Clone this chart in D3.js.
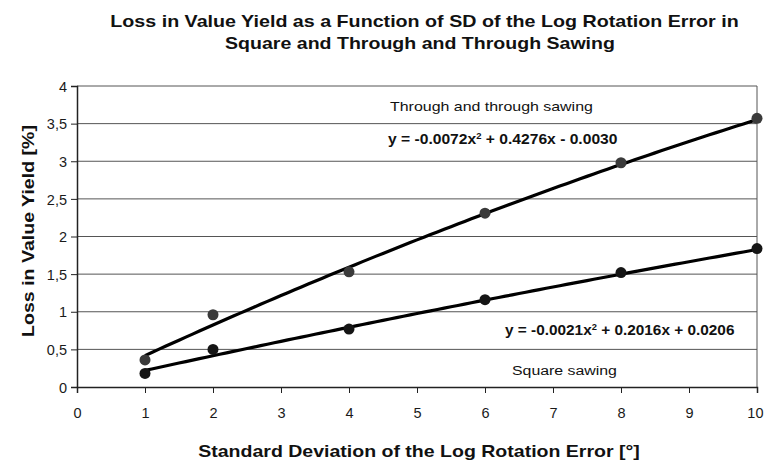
<!DOCTYPE html>
<html>
<head>
<meta charset="utf-8">
<script src="https://cdn.jsdelivr.net/npm/d3@7"></script>
<style>
  body { margin: 0; background: #fff; }
  svg { display: block; font-family: "Liberation Sans", Arial, sans-serif; }
</style>
</head>
<body>
<div id="chart"></div>
<script>
// data
const sdValues = [1, 2, 4, 6, 8, 10];
const throughLoss = [0.36, 0.96, 1.53, 2.31, 2.98, 3.57];
const squareLoss = [0.18, 0.50, 0.77, 1.16, 1.52, 1.84];
// trendline coefficients printed on the chart (a, b, c for ax^2 + bx + c)
const throughFit = [-0.0072, 0.4276, -0.0030];
const squareFit = [-0.0021, 0.2016, 0.0206];
const xTicks = [0, 1, 2, 3, 4, 5, 6, 7, 8, 9, 10];
const yTicks = [0, 0.5, 1, 1.5, 2, 2.5, 3, 3.5, 4];

const width = 764, height = 462;
const margin = { top: 86, right: 7, bottom: 75, left: 77 };

const svg = d3.select('#chart').append('svg')
    .attr('width', width)
    .attr('height', height);

const x = d3.scaleLinear().domain([0, 10]).range([margin.left, width - margin.right]);
const y = d3.scaleLinear().domain([0, 4]).range([height - margin.bottom, margin.top]);

// stretch a text horizontally so it spans w pixels (the source art is wide)
function fit(sel, px, py, w, anchor) {
    sel.attr('text-anchor', anchor || 'start');
    const bw = sel.node().getBBox().width;
    sel.attr('transform', `translate(${px},${py}) scale(${w / bw},1)`);
    return sel;
}

// gridlines
svg.append('g')
    .selectAll('line')
    .data(yTicks.slice(1))
    .enter().append('line')
    .attr('x1', x(0)).attr('x2', x(10))
    .attr('y1', d => y(d)).attr('y2', d => y(d))
    .attr('stroke', '#555')
    .attr('stroke-width', 1);

// right frame
svg.append('line')
    .attr('x1', x(10)).attr('x2', x(10))
    .attr('y1', y(0)).attr('y2', y(4))
    .attr('stroke', '#555');

const fmt = d => String(d).replace('.', ',');

const yAxis = svg.append('g')
    .attr('transform', `translate(${x(0)},0)`)
    .call(d3.axisLeft(y).tickValues(yTicks).tickFormat(fmt).tickSize(6).tickPadding(4));
const xAxis = svg.append('g')
    .attr('transform', `translate(0,${y(0)})`)
    .call(d3.axisBottom(x).tickValues(xTicks).tickSize(6).tickPadding(13));

[yAxis, xAxis].forEach(a => {
    a.select('.domain').attr('stroke', '#222').attr('stroke-width', 1.5);
    a.selectAll('.tick line').attr('stroke', '#222');
    a.selectAll('text').attr('font-size', 14.5).attr('fill', '#1a1a1a')
        .attr('font-family', '"Liberation Sans Narrow", "Arial Narrow", "Liberation Sans", sans-serif');
});
yAxis.selectAll('text').attr('dy', '0.36em');
xAxis.selectAll('text').attr('dy', '0.8em');
// last label sits against the right edge, as in the reference
xAxis.selectAll('.tick text').filter(d => d === 10)
    .attr('text-anchor', 'end').attr('dx', 6);

// trendlines
function curve(coef) {
    const pts = d3.range(0, 91).map(i => 1 + i * 0.1);
    return pts.map(v => [v, coef[0] * v * v + coef[1] * v + coef[2]]);
}
const line = d3.line().x(d => x(d[0])).y(d => y(d[1]));

[throughFit, squareFit].forEach(coef => {
    svg.append('path')
        .datum(curve(coef))
        .attr('d', line)
        .attr('fill', 'none')
        .attr('stroke', '#000')
        .attr('stroke-width', 3.2);
});

// points
function points(vals, color) {
    svg.append('g')
        .selectAll('circle')
        .data(vals)
        .enter().append('circle')
        .attr('cx', (d, i) => x(sdValues[i]))
        .attr('cy', d => y(d))
        .attr('r', 5.5)
        .attr('fill', color);
}
points(throughLoss, '#3a3a3a');
points(squareLoss, '#151515');

// annotations
fit(svg.append('text')
    .attr('font-size', 13.5).attr('fill', '#111')
    .text('Through and through sawing'), 390, 111, 203);

function equation(coefText, rest) {
    const t = svg.append('text')
        .attr('font-size', 14).attr('font-weight', 'bold').attr('fill', '#111');
    t.append('tspan').text(coefText);
    t.append('tspan').attr('font-size', 8.5).attr('dy', -5).text('2');
    t.append('tspan').attr('dy', 5).text(rest);
    return t;
}
fit(equation('y = -0.0072x', ' + 0.4276x - 0.0030'), 388, 144, 230);
fit(equation('y = -0.0021x', ' + 0.2016x + 0.0206'), 505, 335, 230);

fit(svg.append('text')
    .attr('font-size', 13.5).attr('fill', '#111')
    .text('Square sawing'), 512, 375, 105);

// titles
fit(svg.append('text')
    .attr('font-size', 16).attr('font-weight', 'bold').attr('fill', '#111')
    .text('Loss in Value Yield as a Function of SD of the Log Rotation Error in'),
    424.5, 27, 629, 'middle');
fit(svg.append('text')
    .attr('font-size', 16).attr('font-weight', 'bold').attr('fill', '#111')
    .text('Square and Through and Through Sawing'),
    420, 49, 390, 'middle');

fit(svg.append('text')
    .attr('font-size', 17).attr('font-weight', 'bold').attr('fill', '#111')
    .text('Standard Deviation of the Log Rotation Error [°]'),
    419, 457, 442, 'middle');

const yTitle = svg.append('text')
    .attr('font-size', 17).attr('font-weight', 'bold').attr('fill', '#111')
    .attr('text-anchor', 'middle')
    .text('Loss in Value Yield [%]');
const yLen = yTitle.node().getBBox().width;
yTitle.attr('transform', `translate(34,231) rotate(-90) scale(${212 / yLen},1)`);
</script>
</body>
</html>
